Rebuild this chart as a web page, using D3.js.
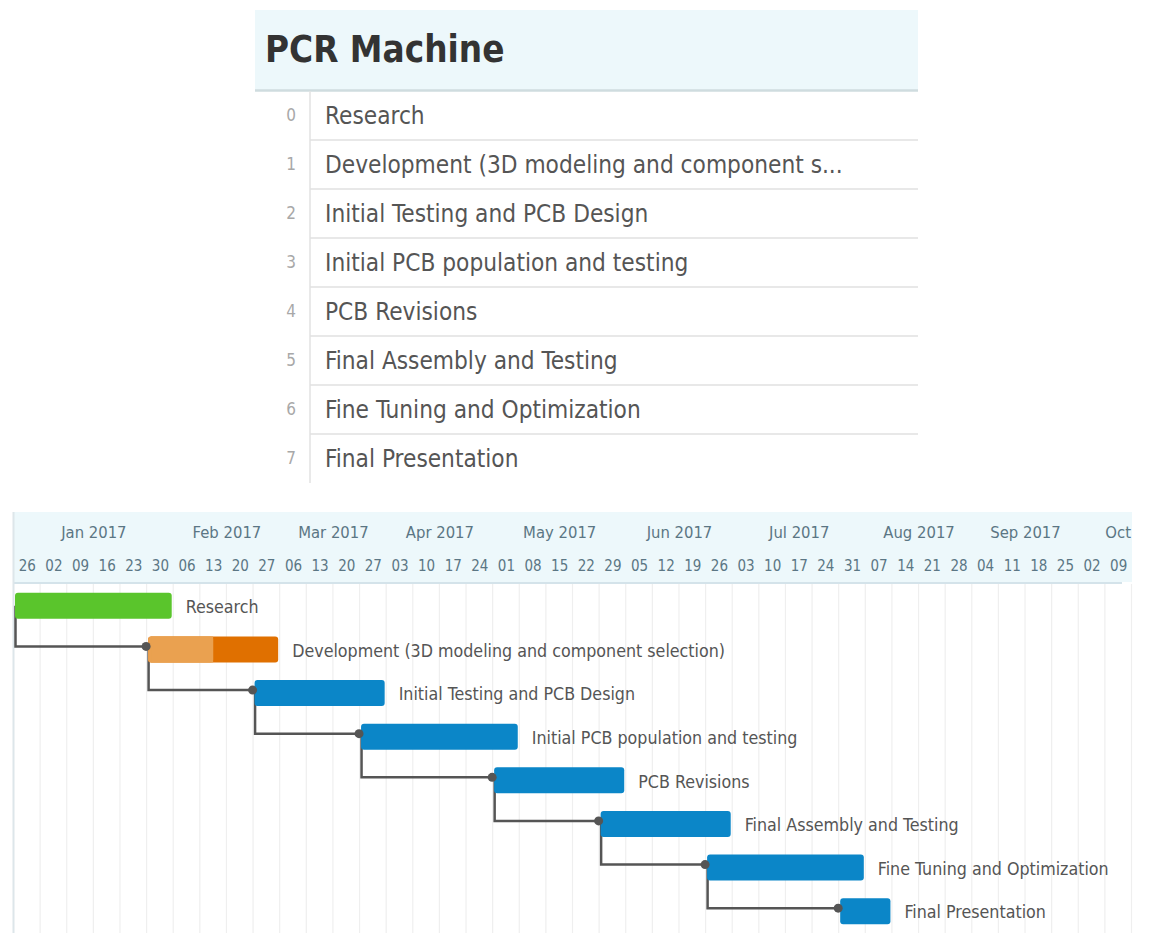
<!DOCTYPE html>
<html><head><meta charset="utf-8">
<script src="https://cdn.jsdelivr.net/npm/d3@7"></script>
<style>
body{margin:0;background:#fff}
text{font-family:'DejaVu Sans Condensed','DejaVu Sans',sans-serif;font-stretch:condensed}
</style>
</head><body>
<svg id="c" width="1151" height="944"></svg>
<script>
// ---------- data ----------
const title = "PCR Machine";
const taskNames = [
  "Research",
  "Development (3D modeling and component selection)",
  "Initial Testing and PCB Design",
  "Initial PCB population and testing",
  "PCB Revisions",
  "Final Assembly and Testing",
  "Fine Tuning and Optimization",
  "Final Presentation"
];
const taskStarts = ["2016-12-26","2017-01-30","2017-02-27","2017-03-27","2017-05-01","2017-05-29","2017-06-26","2017-07-31"];
const taskEnds   = ["2017-02-06","2017-03-06","2017-04-03","2017-05-08","2017-06-05","2017-07-03","2017-08-07","2017-08-14"];
const taskStatus = ["done","active","todo","todo","todo","todo","todo","todo"];
const taskProgress = [1, 0.5, 0, 0, 0, 0, 0, 0];
const taskPredecessor = [null, 0, 1, 2, 3, 4, 5, 6];
const viewStart = "2016-12-26";
const viewEnd = "2017-10-16";
const listMaxChars = 40;

// ---------- setup ----------
const parse = d3.timeParse("%Y-%m-%d");
const svg = d3.select("#c");
const n = taskNames.length;
const tasks = taskNames.map((name, i) => ({
  i, name, start: parse(taskStarts[i]), end: parse(taskEnds[i]),
  status: taskStatus[i], progress: taskProgress[i], pred: taskPredecessor[i]
}));

// ---------- task list panel ----------
const L = {x0: 255, x1: 918, headTop: 10, headBot: 90, divX: 310, rowsTop: 91, rowsBot: 483};
const list = svg.append("g");
list.append("rect").attr("x", L.x0).attr("y", L.headTop).attr("width", L.x1 - L.x0)
  .attr("height", L.headBot - L.headTop).attr("fill", "#edf8fb");
list.append("line").attr("x1", L.x0).attr("x2", L.x1).attr("y1", L.headBot + 0.5).attr("y2", L.headBot + 0.5)
  .attr("stroke", "#cfdcdf").attr("stroke-width", 2.5);
list.append("text").attr("x", 265).attr("y", 62).text(title)
  .attr("font-size", 36.5).attr("font-weight", "bold").attr("fill", "#333");

const listY = d3.scaleBand().domain(d3.range(n)).range([L.rowsTop, L.rowsBot]);
list.selectAll(".sep").data(d3.range(n - 1)).join("line")
  .attr("x1", L.divX).attr("x2", L.x1)
  .attr("y1", i => listY(i) + listY.bandwidth()).attr("y2", i => listY(i) + listY.bandwidth())
  .attr("stroke", "#e8e8e8").attr("stroke-width", 2);
list.append("line").attr("x1", L.divX).attr("x2", L.divX).attr("y1", L.rowsTop).attr("y2", L.rowsBot)
  .attr("stroke", "#e2e2e2").attr("stroke-width", 1.5);
list.selectAll(".idx").data(tasks).join("text")
  .attr("x", 291).attr("y", d => listY(d.i) + listY.bandwidth() / 2)
  .attr("dy", "0.35em").attr("text-anchor", "middle")
  .attr("font-size", 17).attr("fill", "#a8a8a8").text(d => d.i);
list.selectAll(".nm").data(tasks).join("text")
  .attr("x", 325).attr("y", d => listY(d.i) + listY.bandwidth() / 2)
  .attr("dy", "0.35em").attr("font-size", 24.2).attr("fill", "#555")
  .text(d => d.name.length > listMaxChars ? d.name.slice(0, listMaxChars) + "..." : d.name);

// ---------- gantt ----------
const G = {x0: 14, x1: 1132, headTop: 512, headBot: 582, bodyTop: 584, bodyBot: 933};
const x = d3.scaleTime().domain([parse(viewStart), parse(viewEnd)]).range([G.x0, G.x1]);
const y = d3.scaleBand().domain(d3.range(n)).range([G.bodyTop, G.bodyBot]);
const gantt = svg.append("g");

svg.append("defs").append("clipPath").attr("id", "clipH")
  .append("rect").attr("x", G.x0).attr("y", G.headTop).attr("width", G.x1 - G.x0).attr("height", G.headBot - G.headTop);

gantt.append("rect").attr("x", G.x0).attr("y", G.headTop).attr("width", G.x1 - G.x0)
  .attr("height", G.headBot - G.headTop).attr("fill", "#edf8fb");
gantt.append("line").attr("x1", G.x0).attr("x2", G.x1 - 10).attr("y1", G.headBot + 1).attr("y2", G.headBot + 1)
  .attr("stroke", "#d4e3ea").attr("stroke-width", 2);
gantt.append("line").attr("x1", G.x0 - 0.5).attr("x2", G.x0 - 0.5).attr("y1", G.headTop).attr("y2", G.bodyBot)
  .attr("stroke", "#dde6ea").attr("stroke-width", 2);

// week grid
const weeks = d3.timeMonday.range(parse(viewStart), parse(viewEnd));
const colW = x(d3.timeMonday.offset(weeks[0], 1)) - x(weeks[0]);
gantt.selectAll(".grid").data(weeks.slice(1).concat([parse(viewEnd)])).join("line")
  .attr("x1", d => x(d) - 0.5).attr("x2", d => x(d) - 0.5)
  .attr("y1", G.bodyTop).attr("y2", G.bodyBot)
  .attr("stroke", "#efefef").attr("stroke-width", 1.2);

const head = gantt.append("g").attr("clip-path", "url(#clipH)");
head.selectAll(".wk").data(weeks).join("text")
  .attr("x", d => x(d) + colW / 2).attr("y", 566).attr("dy", "0.35em")
  .attr("text-anchor", "middle").attr("font-size", 15).attr("fill", "#5b7684")
  .text(d3.timeFormat("%d"));

// month labels: centred over the week columns that start in that month;
// a month running past the view is shown by its short name at the view edge
const firstMonth = d3.timeMonth.ceil(parse(viewStart));
const allWeeks = d3.timeMonday.range(parse(viewStart), d3.timeMonth.ceil(parse(viewEnd)));
const monthGroups = d3.groups(allWeeks, w => +d3.max([d3.timeMonth.floor(w), firstMonth]))
  .map(([m, ws]) => {
    const a = x(ws[0]), b = x(d3.timeMonday.offset(ws[ws.length - 1], 1));
    const partial = b > G.x1 + 1;
    return {m: new Date(m), partial, cx: partial ? G.x1 - 1 : (a + b) / 2};
  });
head.selectAll(".mo").data(monthGroups).join("text")
  .attr("x", d => d.cx).attr("y", 532).attr("dy", "0.35em")
  .attr("text-anchor", d => d.partial ? "end" : "middle")
  .attr("font-size", 16.5).attr("fill", "#5b7684")
  .text(d => d3.timeFormat(d.partial ? "%b" : "%b %Y")(d.m));

// connectors
const cy = i => y(i) + y.bandwidth() / 2;
const barH = 26;
const links = tasks.filter(d => d.pred !== null);
gantt.selectAll(".link").data(links).join("path")
  .attr("d", d => {
    const p = tasks[d.pred];
    return `M${x(p.start) + 1.5},${cy(p.i)} V${cy(d.i) - 3} H${x(d.start)}`;
  })
  .attr("fill", "none").attr("stroke", "#555").attr("stroke-width", 2.5);

// bars
const colors = {done: "#5ac52c", active: "#e07000", todo: "#0b86c8"};
const barX = d => x(d.start) + 1;
const barW = d => x(d.end) - x(d.start) - 3;
gantt.selectAll(".bar").data(tasks).join("rect")
  .attr("x", barX).attr("y", d => cy(d.i) - barH / 2)
  .attr("width", barW).attr("height", barH).attr("rx", 3)
  .attr("fill", d => colors[d.status]);
gantt.selectAll(".prog").data(tasks.filter(d => d.status === "active")).join("rect")
  .attr("x", barX).attr("y", d => cy(d.i) - barH / 2)
  .attr("width", d => barW(d) * d.progress).attr("height", barH).attr("rx", 3)
  .attr("fill", "#eaa150");
gantt.selectAll(".prog2").data(tasks.filter(d => d.status === "active")).join("rect")
  .attr("x", d => barX(d) + 3).attr("y", d => cy(d.i) - barH / 2)
  .attr("width", d => barW(d) * d.progress - 3).attr("height", barH)
  .attr("fill", "#eaa150");

gantt.selectAll(".dot").data(links).join("circle")
  .attr("cx", d => x(d.start) - 1).attr("cy", d => cy(d.i) - 3).attr("r", 4.5)
  .attr("fill", "#555");

gantt.selectAll(".lbl").data(tasks).join("text")
  .attr("x", d => x(d.end) + 12).attr("y", d => cy(d.i) + 1).attr("dy", "0.35em")
  .attr("font-size", 17.7).attr("fill", "#555").text(d => d.name);
</script>
</body></html>
